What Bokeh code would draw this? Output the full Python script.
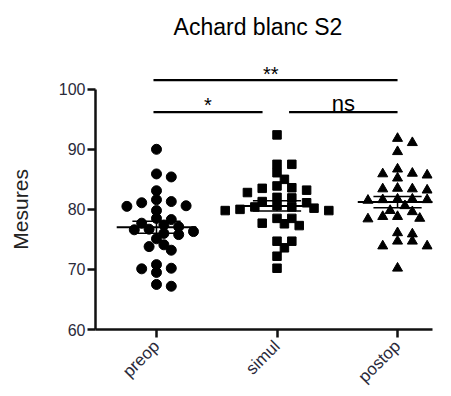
import math
import numpy as np
from bokeh.plotting import figure
from bokeh.layouts import row
from bokeh.models import Range1d, FixedTicker, ColumnDataSource
from bokeh.core.properties import value
from bokeh.embed import file_html
from bokeh.resources import INLINE

# ---------------- data ----------------
chart_title = "Achard blanc S2"
y_label = "Mesures"
groups = ["preop", "simul", "postop"]
y_ticks = [60, 70, 80, 90, 100]

preop = [90.0, 85.4, 85.9, 83.1, 80.5, 81.3, 81.1, 79.8, 81.6, 80.6,
         77.7, 78.5, 77.4, 78.3, 76.6, 76.0, 75.8, 76.3, 76.7, 75.1,
         77.1, 74.1, 73.2, 73.8, 70.2, 69.5, 70.1, 70.8, 67.2, 67.5]
simul = [92.4, 87.5, 87.5, 86.1, 85.0, 83.9, 83.5, 83.6, 82.8, 83.2,
         82.0, 81.9, 81.3, 81.1, 80.4, 80.0, 80.4, 80.6, 79.8, 79.8,
         80.2, 78.5, 78.5, 77.7, 77.3, 77.6, 74.7, 74.7, 73.6, 72.2, 70.2]
postop = [91.1, 91.8, 89.6, 86.7, 85.9, 85.2, 85.7, 86.0, 83.5, 83.4,
          83.2, 83.4, 81.7, 81.6, 81.6, 81.5, 81.7, 79.6, 80.6, 79.8,
          78.8, 78.4, 78.5, 78.8, 76.1, 75.9, 74.7, 73.9, 73.9, 74.7, 70.2]
series = [preop, simul, postop]

# significance comparisons: (group a, group b, label)
comparisons = [("preop", "postop", "**"), ("preop", "simul", "*"), ("simul", "postop", "ns")]

# ---------------- layout ----------------
LW = 40                      # narrow strip holding the y-axis title
W, H = 451 - LW, 396
BL, BR, BT, BB = 95 - LW, 19, 0, 66
x0, x1 = 0.494, 3.29
y0 = 60.0
ypx = 241.0 / 40.0
y1 = y0 + (H - BT - BB) / ypx
xpx = (W - BL - BR) / (x1 - x0)

FONT = "Liberation Sans"
INK = "#111111"

yr = Range1d(y0, y1)
p = figure(width=W, height=H, x_range=Range1d(x0, x1), y_range=yr,
           output_backend="svg", toolbar_location=None,
           min_border_left=BL, min_border_right=BR, min_border_top=BT, min_border_bottom=BB)
p.outline_line_color = None
p.xgrid.visible = False
p.ygrid.visible = False
p.background_fill_color = "white"
p.border_fill_color = "white"

# axes
yax = p.yaxis[0]
yax.bounds = (60, 100)
yax.ticker = FixedTicker(ticks=y_ticks)
xax = p.xaxis[0]
xax.ticker = FixedTicker(ticks=[i + 1 for i in range(len(groups))])
xax.major_label_overrides = {i + 1: g for i, g in enumerate(groups)}
xax.major_label_orientation = math.pi / 4
for ax in (xax, yax):
    ax.axis_line_width = 2.5
    ax.axis_line_color = INK
    ax.major_tick_line_width = 2.5
    ax.major_tick_line_color = INK
    ax.major_tick_in = 0
    ax.major_tick_out = 8
    ax.minor_tick_line_color = None
    ax.major_label_text_font = FONT
    ax.major_label_text_color = "#2a2a3a"
yax.major_label_text_font_size = "16px"
yax.major_label_standoff = 2
xax.major_label_text_font_size = "17px"
xax.major_label_standoff = 6

# y-axis title in a narrow strip sharing the y range, centred on the 60-100 span
lab = figure(width=LW, height=H, x_range=Range1d(0, LW), y_range=yr,
             output_backend="svg", toolbar_location=None, x_axis_type=None, y_axis_type=None,
             min_border_left=0, min_border_right=0, min_border_top=BT, min_border_bottom=BB)
lab.outline_line_color = None
lab.xgrid.visible = False
lab.ygrid.visible = False
lab.text(x=[20], y=[(60 + 100) / 2], text=[y_label], angle=math.pi / 2, text_align="center",
         text_baseline="middle", text_font=value(FONT), text_font_size="21px",
         text_color="#222222")


def swarm(vals, step=7.4, ax_=10.5, ay_=7.0):
    vals = np.asarray(vals, dtype=float)
    order = np.argsort(-vals)
    placed = []
    offs = np.zeros(len(vals))
    cands = [0]
    for k in range(1, 15):
        cands += [k, -k]
    for idx in order:
        v = vals[idx]
        for k in cands:
            dx = k * step
            ok = True
            for (pdx, pv) in placed:
                ddx = (dx - pdx) / ax_
                ddy = (v - pv) * ypx / ay_
                if ddx * ddx + ddy * ddy < 1.0:
                    ok = False
                    break
            if ok:
                placed.append((dx, v))
                offs[idx] = dx / xpx
                break
    return offs


markers = ["circle", "square", "triangle"]
sizes = [10, 8.5, 10]
for i, (g, vals) in enumerate(zip(groups, series)):
    xc = i + 1
    offs = swarm(vals)
    src = ColumnDataSource(dict(x=xc + offs, y=vals))
    p.scatter("x", "y", source=src, marker=markers[i], size=sizes[i],
              fill_color="black", line_color="black")
    arr = np.asarray(vals)
    m = arr.mean()
    sem = arr.std(ddof=1) / math.sqrt(len(arr))
    p.segment(x0=[xc - 0.33], y0=[m], x1=[xc + 0.33], y1=[m], line_color="black", line_width=2)
    p.segment(x0=[xc], y0=[m - sem], x1=[xc], y1=[m + sem], line_color="black", line_width=1.5)
    p.segment(x0=[xc - 0.2, xc - 0.2], y0=[m - sem, m + sem], x1=[xc + 0.2, xc + 0.2],
              y1=[m - sem, m + sem], line_color="black", line_width=1.5)

# significance bars
pos = {g: i + 1 for i, g in enumerate(groups)}
last = len(groups)
for a, b, lab_txt in comparisons:
    xa, xb = pos[a], pos[b]
    level = 101.5 if (xb - xa) > 1 else 96.2
    start = xa - 0.025 if xa == 1 else xa + 0.1
    end = xb if xb == last else xb - 0.12
    p.segment(x0=[start], y0=[level], x1=[end], y1=[level], line_color="black", line_width=2.2)
    mid = (start + end) / 2
    if lab_txt == "ns":
        p.text(x=[mid], y=[level + 1.45], text=[lab_txt], text_align="center",
               text_baseline="alphabetic", text_font=value(FONT), text_font_size="22px",
               text_color="black")
    else:
        if (xb - xa) > 1:
            mid -= 0.04
        p.text(x=[mid], y=[level + 1.1], text=[lab_txt], text_align="center",
               text_baseline="alphabetic", text_font=value(FONT), text_font_size="20px",
               text_color="black")

# chart title
p.text(x=[1.842], y=[110.29], text=[chart_title], text_align="center",
       text_baseline="alphabetic", text_font=value(FONT), text_font_size="23px",
       text_color="black")

layout = row(lab, p, spacing=0)
open("out.html", "w").write(file_html(layout, INLINE))
